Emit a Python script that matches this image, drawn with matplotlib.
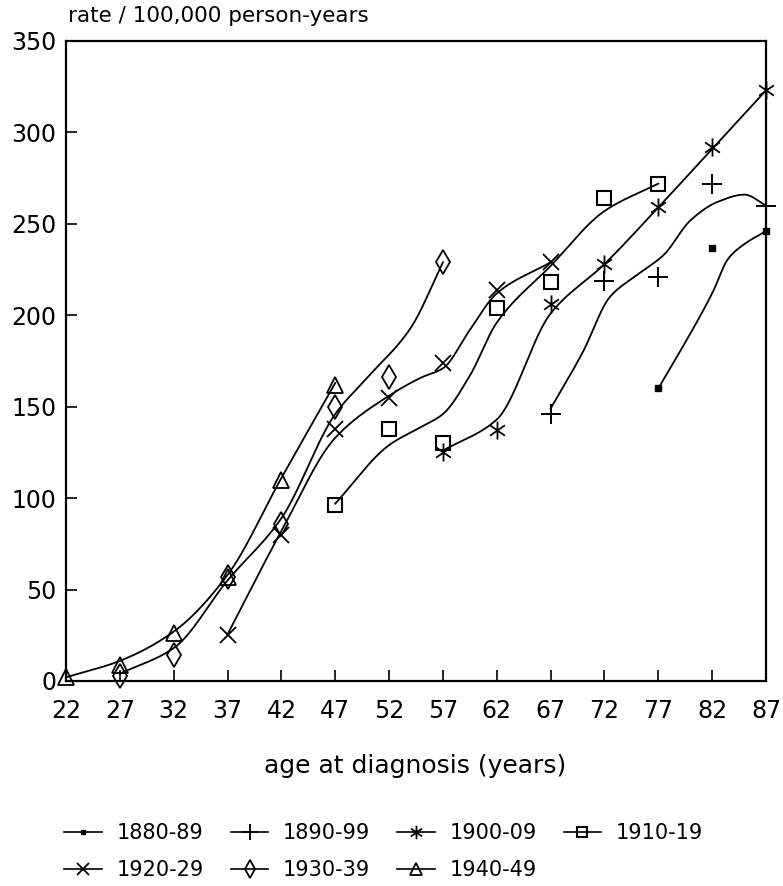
import numpy as np
import matplotlib
matplotlib.use("Agg")
import matplotlib.pyplot as plt
from matplotlib.lines import Line2D
from matplotlib.path import Path

# ---- observed rates (markers) ----
cohorts = ["1880-89", "1890-99", "1900-09", "1910-19", "1920-29", "1930-39", "1940-49"]

age_1880 = [77, 82, 87]
rate_1880 = [160, 237, 246]
age_1890 = [67, 72, 77, 82, 87]
rate_1890 = [146, 219, 221, 272, 260]
age_1900 = [57, 62, 67, 72, 77, 82, 87]
rate_1900 = [125, 137, 206, 228, 259, 292, 323]
age_1910 = [47, 52, 57, 62, 67, 72, 77]
rate_1910 = [96, 138, 130, 204, 218, 264, 272]
age_1920 = [37, 42, 47, 52, 57, 62, 67]
rate_1920 = [25, 80, 138, 155, 174, 214, 229]
age_1930 = [27, 32, 37, 42, 47, 52, 57]
rate_1930 = [3, 14, 57, 86, 150, 166, 229]
age_1940 = [22, 27, 32, 37, 42, 47]
rate_1940 = [2, 9, 26, 57, 110, 162]

# ---- fitted (smoothed) curves ----
fit_age_1880 = [77, 79, 82, 83.5, 85, 87]
fit_1880 = [160, 180, 212, 231, 239, 246]
fit_age_1890 = [67, 70, 72.5, 75, 77.5, 80, 82.5, 85, 87]
fit_1890 = [149, 180, 210, 222, 233, 252, 262, 266, 260]
fit_age_1900 = [57, 62, 67, 72, 77, 82, 87]
fit_1900 = [126, 143, 201, 228, 259, 291, 323]
fit_age_1910 = [47, 52, 55, 57, 59.5, 62, 67, 72, 77]
fit_1910 = [97, 129, 139, 146, 167, 196, 227, 257, 272]
fit_age_1920 = [37, 42, 47, 52, 55, 57, 59.5, 62, 67]
fit_1920 = [25.5, 82, 133, 156, 166, 171, 192, 212, 229]
fit_age_1930 = [27, 32, 37, 42, 47, 50, 54, 57]
fit_1930 = [4, 18, 55, 89, 146, 166, 193, 229]
fit_age_1940 = [22, 27, 32, 37, 42, 47]
fit_1940 = [2, 11, 27, 58, 111, 163]

x_ticks = [22, 27, 32, 37, 42, 47, 52, 57, 62, 67, 72, 77, 82, 87]
y_ticks = [0, 50, 100, 150, 200, 250, 300, 350]


def pchip(x, y, xs):
    x = np.asarray(x, float)
    y = np.asarray(y, float)
    h = np.diff(x)
    d = np.diff(y) / h
    n = len(x)
    m = np.zeros(n)
    for k in range(1, n - 1):
        if d[k - 1] * d[k] > 0:
            w1 = 2 * h[k] + h[k - 1]
            w2 = h[k] + 2 * h[k - 1]
            m[k] = (w1 + w2) / (w1 / d[k - 1] + w2 / d[k])
    m[0] = d[0]
    m[-1] = d[-1]
    out = np.empty_like(xs)
    for i, xv in enumerate(xs):
        k = min(max(np.searchsorted(x, xv) - 1, 0), n - 2)
        t = (xv - x[k]) / h[k]
        h00 = 2 * t**3 - 3 * t**2 + 1
        h10 = t**3 - 2 * t**2 + t
        h01 = -2 * t**3 + 3 * t**2
        h11 = t**3 - t**2
        out[i] = h00 * y[k] + h10 * h[k] * m[k] + h01 * y[k + 1] + h11 * h[k] * m[k + 1]
    return out


# asterisk: vertical spoke plus two diagonals
_ang = np.deg2rad([90, 35, 145])
_v, _c = [], []
for a in _ang:
    _v += [(np.cos(a), np.sin(a)), (-np.cos(a), -np.sin(a))]
    _c += [Path.MOVETO, Path.LINETO]
asterisk = Path(_v, _c)

series = [
    (age_1880, rate_1880, fit_age_1880, fit_1880, dict(marker="s", markersize=4, mfc="black")),
    (age_1890, rate_1890, fit_age_1890, fit_1890, dict(marker="+", markersize=15, mew=1.4)),
    (age_1900, rate_1900, fit_age_1900, fit_1900, dict(marker=asterisk, markersize=13, mew=1.3)),
    (age_1910, rate_1910, fit_age_1910, fit_1910, dict(marker="s", markersize=10, mfc="none", mew=1.5)),
    (age_1920, rate_1920, fit_age_1920, fit_1920, dict(marker="x", markersize=12, mew=1.3)),
    (age_1930, rate_1930, fit_age_1930, fit_1930, dict(marker="d", markersize=12, mfc="none", mew=1.3)),
    (age_1940, rate_1940, fit_age_1940, fit_1940, dict(marker="^", markersize=12, mfc="none", mew=1.3)),
]

fig = plt.figure(figsize=(7.83, 8.86), dpi=100)
ax = fig.add_axes([66 / 783, 1 - 681 / 886, 700 / 783, 640 / 886])

handles = []
for (a, r, fa, fv, mk), name in zip(series, cohorts):
    xs = np.linspace(fa[0], fa[-1], 200)
    ax.plot(xs, pchip(fa, fv, xs), color="black", lw=1.3, clip_on=False)
    ax.plot(a, r, linestyle="none", color="black", clip_on=False, zorder=3, **mk)
    lmk = dict(mk)
    lmk["markersize"] = mk["markersize"] * 0.75
    handles.append(Line2D([], [], color="black", lw=1.2, label=name, **lmk))

ax.set_xlim(22, 87)
ax.set_ylim(0, 350)
ax.set_xticks(x_ticks)
ax.set_yticks(y_ticks)
ax.tick_params(direction="in", length=8, width=1.2, labelsize=17)
ax.tick_params(axis="x", pad=13)
ax.tick_params(axis="y", pad=7)
for s in ax.spines.values():
    s.set_linewidth(1.6)

fig.text(68 / 783, 1 - 16 / 886, "rate / 100,000 person-years", fontsize=15.5,
         ha="left", va="center")
fig.text(415 / 783, 1 - 766 / 886, "age at diagnosis (years)", fontsize=18,
         ha="center", va="center")

# column-major order so rows read 1880..1910 / 1920..1940
order = [0, 4, 1, 5, 2, 6, 3]
fig.legend(handles=[handles[i] for i in order], ncol=4, loc="upper left",
           bbox_to_anchor=(54 / 783, 1 - 813 / 886),
           frameon=False, fontsize=15, handlelength=1.8, handletextpad=0.7,
           columnspacing=1.3, borderpad=0, labelspacing=0.8)

fig.savefig("out.png", dpi=100)
